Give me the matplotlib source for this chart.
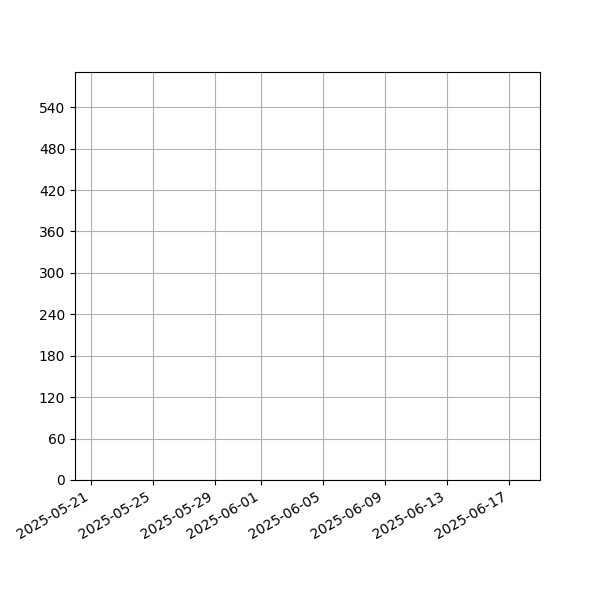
import matplotlib
matplotlib.use('Agg')
import matplotlib.pyplot as plt
import matplotlib.dates as mdates
import numpy as np
from datetime import datetime

# data (the chart shows no marks, only the empty axes)
dates = []
values = []
x_start = datetime(2025, 5, 20)
x_end = datetime(2025, 6, 19)
y_max = 591
y_ticks = [0, 60, 120, 180, 240, 300, 360, 420, 480, 540]
tick_days = [1, 5, 9, 13, 17, 21, 25, 29]

fig, ax = plt.subplots(figsize=(6, 6), dpi=100)
ax.plot(dates, values)

ax.set_xlim(x_start, x_end)
ax.set_ylim(0, y_max)
ax.set_yticks(y_ticks)
ax.xaxis.set_major_locator(mdates.DayLocator(bymonthday=tick_days))
ax.xaxis.set_major_formatter(mdates.DateFormatter('%Y-%m-%d'))
ax.grid(True)
fig.autofmt_xdate()

fig.savefig('out.png', dpi=100)
